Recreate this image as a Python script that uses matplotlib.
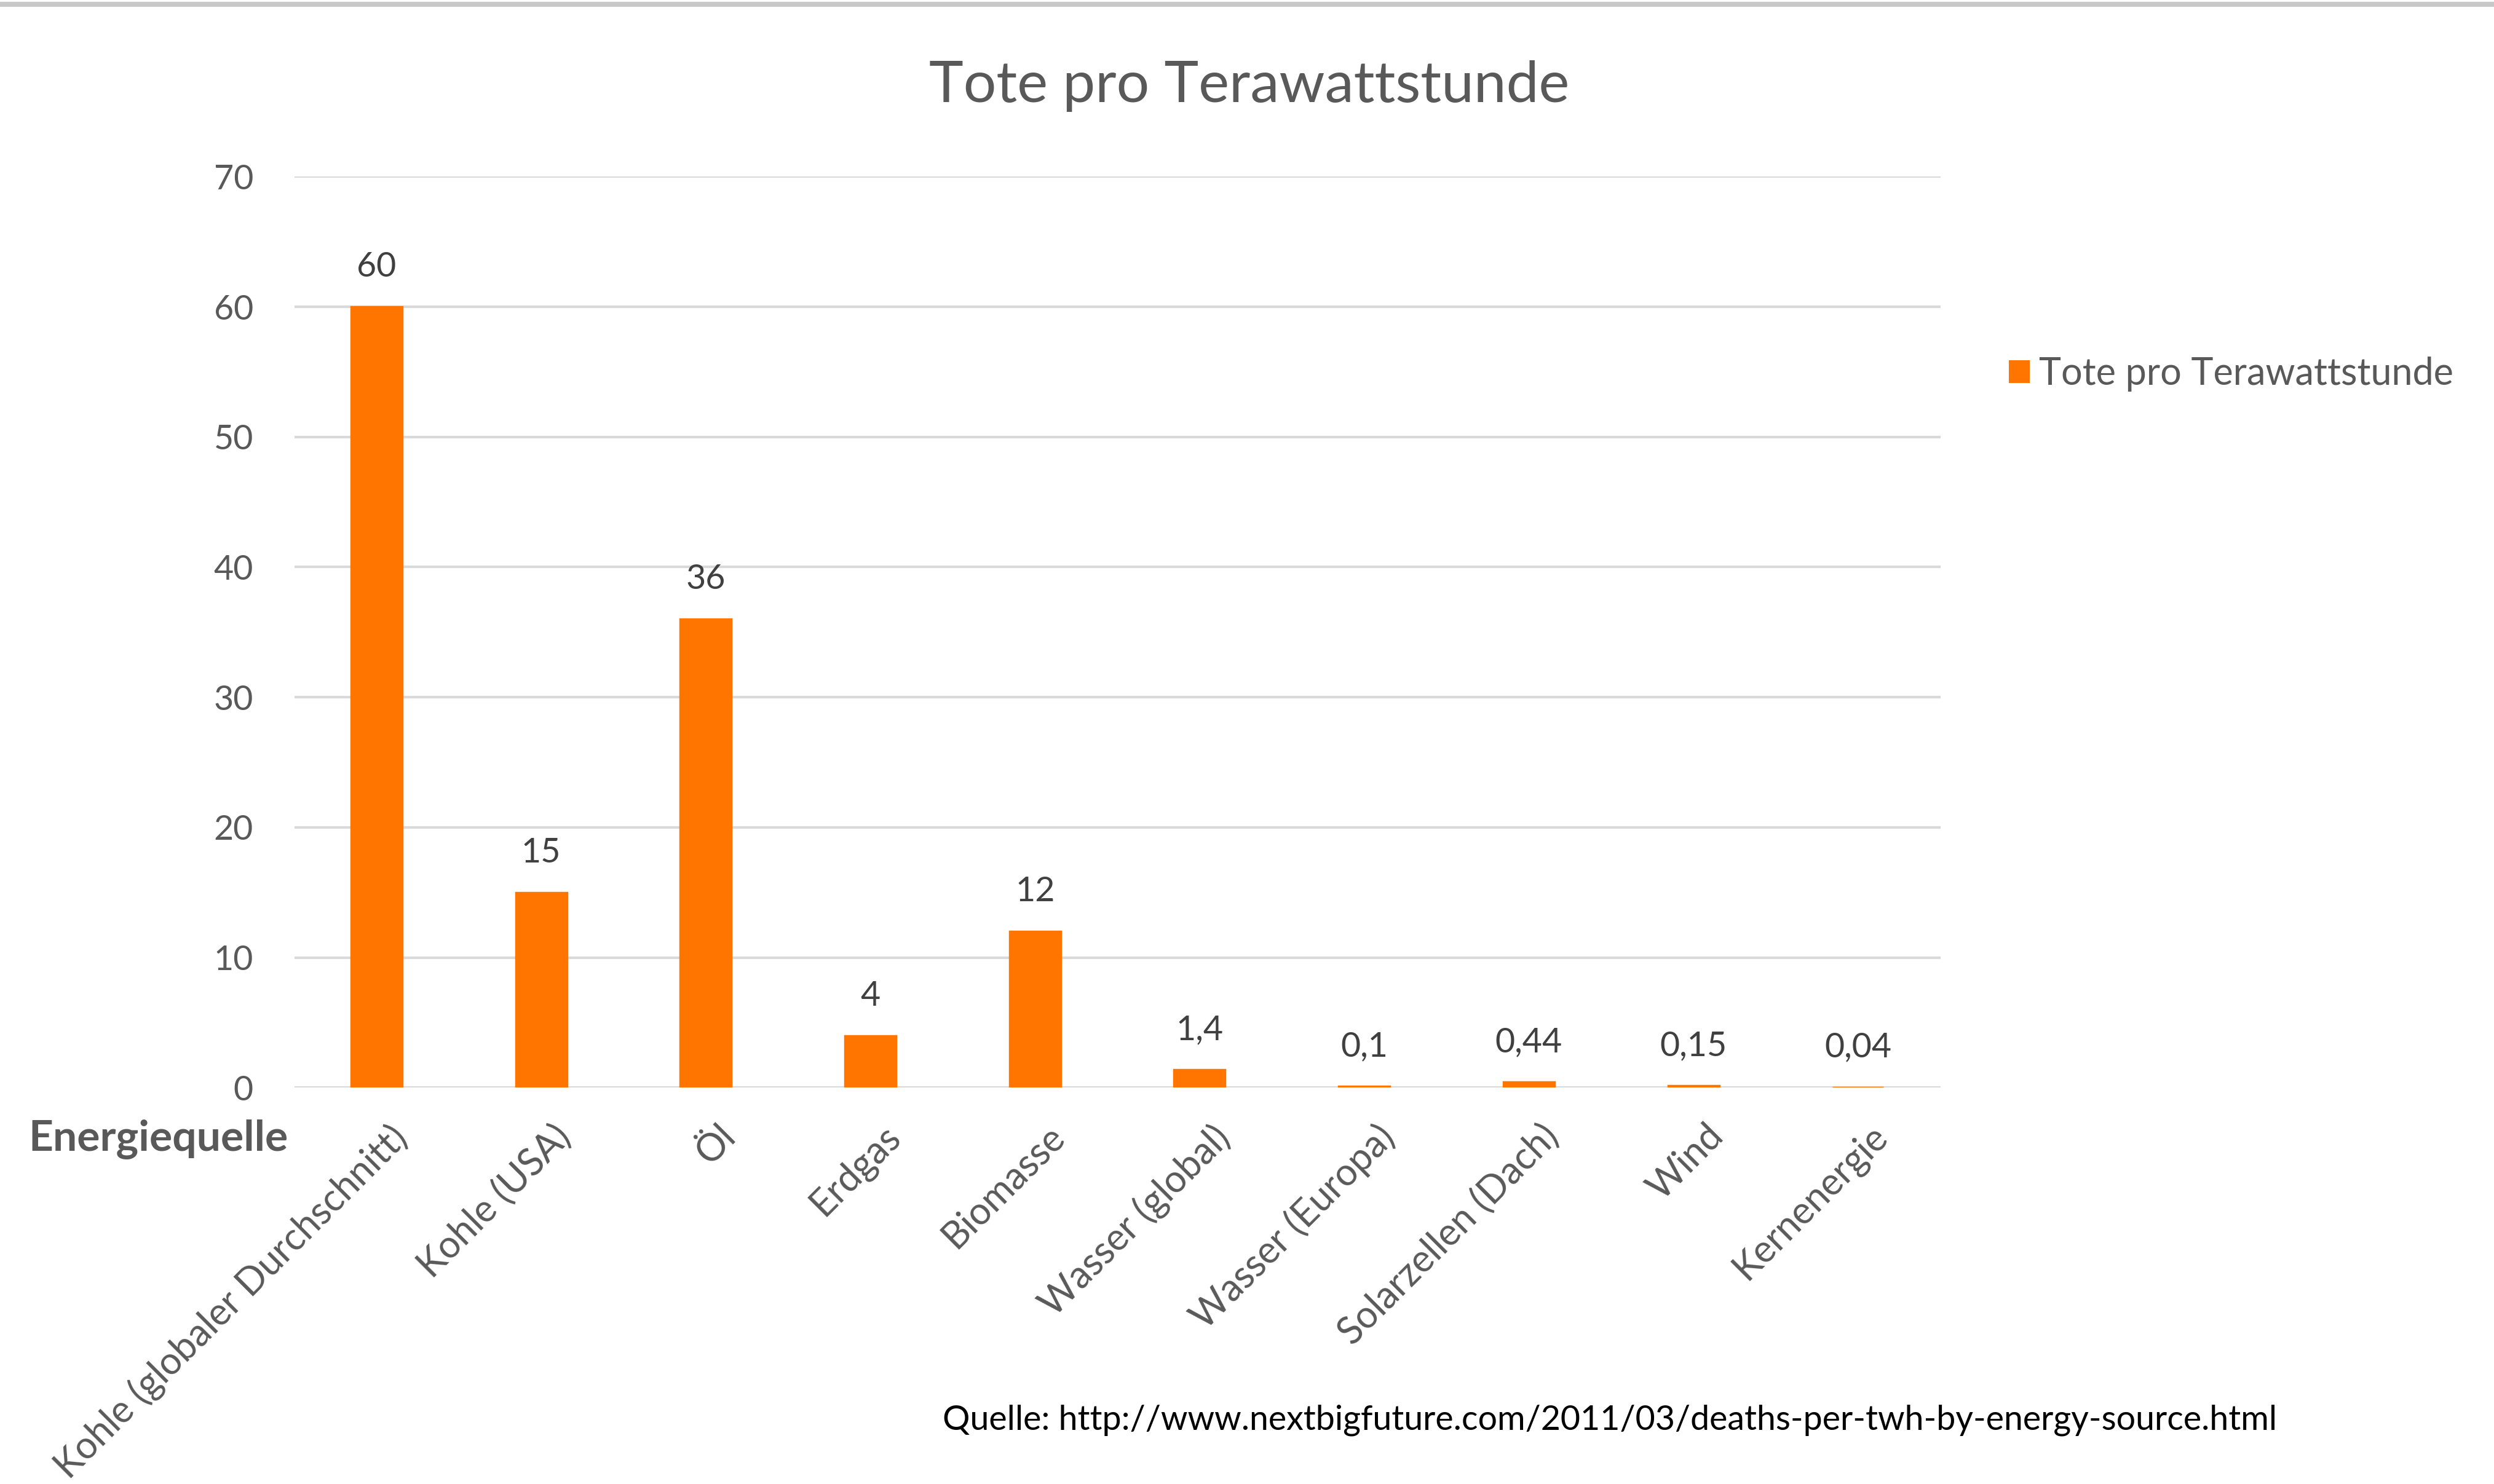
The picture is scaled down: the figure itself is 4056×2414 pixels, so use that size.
import matplotlib.pyplot as plt
from matplotlib.lines import Line2D
from matplotlib.patches import Patch
import numpy as np

plt.rcParams["font.family"] = ["Lato", "DejaVu Sans"]

categories = [
    "Kohle (globaler Durchschnitt)",
    "Kohle (USA)",
    "Öl",
    "Erdgas",
    "Biomasse",
    "Wasser (global)",
    "Wasser (Europa)",
    "Solarzellen (Dach)",
    "Wind",
    "Kernenergie",
]
deaths_per_twh = [60, 15, 36, 4, 12, 1.4, 0.1, 0.44, 0.15, 0.04]
y_ticks = [0, 10, 20, 30, 40, 50, 60, 70]

TITLE = "Tote pro Terawattstunde"
SOURCE = "Quelle: http://www.nextbigfuture.com/2011/03/deaths-per-twh-by-energy-source.html"

ORANGE = "#FF7500"
GREY_TEXT = "#595959"
GRID = "#D9D9D9"


def de_number(v):
    # German decimal comma, integers without decimals
    if float(v).is_integer():
        return str(int(v))
    return f"{v:g}".replace(".", ",")


fig = plt.figure(figsize=(40.56, 24.14), dpi=100)
ax = fig.add_axes([0.118, 0.267, 0.660, 0.614])

x = np.arange(len(categories))
# thin edge keeps the near-zero bars visible as a line on the axis
bars = ax.bar(x, deaths_per_twh, width=0.31, color=ORANGE, edgecolor=ORANGE,
              linewidth=2.5, zorder=3)

for rect, v in zip(bars, deaths_per_twh):
    ax.annotate(de_number(v), (rect.get_x() + rect.get_width() / 2, rect.get_height()),
                xytext=(0, 28), textcoords="offset points", ha="center", va="bottom",
                fontsize=40, color="#404040")

ax.set_xlim(-0.5, len(categories) - 0.5)
ax.set_ylim(0, 70)
ax.set_yticks(y_ticks)
ax.set_yticklabels([str(t) for t in y_ticks])
ax.tick_params(axis="y", length=0, pad=48, labelsize=40, labelcolor=GREY_TEXT)
ax.set_xticks(x + 0.07)
ax.set_xticklabels(categories, rotation=45, ha="right", va="top", rotation_mode="anchor",
                   fontsize=44, color=GREY_TEXT)
ax.tick_params(axis="x", length=0, pad=36)

ax.grid(True, axis="y", color=GRID, linewidth=3, zorder=0)
ax.set_axisbelow(True)
for s in ax.spines.values():
    s.set_visible(False)

fig.text(0.501, 0.942, TITLE, ha="center", va="center", fontsize=68, color=GREY_TEXT)
fig.text(0.0115, 0.232, "Energiequelle", ha="left", va="center", fontsize=50,
         fontweight="bold", color=GREY_TEXT)
fig.text(0.378, 0.043, SOURCE, ha="left", va="center", fontsize=40, color="black")

handle = Patch(facecolor=ORANGE, edgecolor="none")
fig.legend([handle], [TITLE], loc="center left", bbox_to_anchor=(0.792, 0.748),
           frameon=False, fontsize=44, labelcolor=GREY_TEXT, handlelength=0.55,
           handleheight=0.55, handletextpad=0.25)

# thin grey frame line at the top edge
fig.add_artist(Line2D([0, 1], [0.997, 0.997], transform=fig.transFigure,
                      color="#C8C8C8", linewidth=6))

fig.savefig("out.png", dpi=100, facecolor="white")
